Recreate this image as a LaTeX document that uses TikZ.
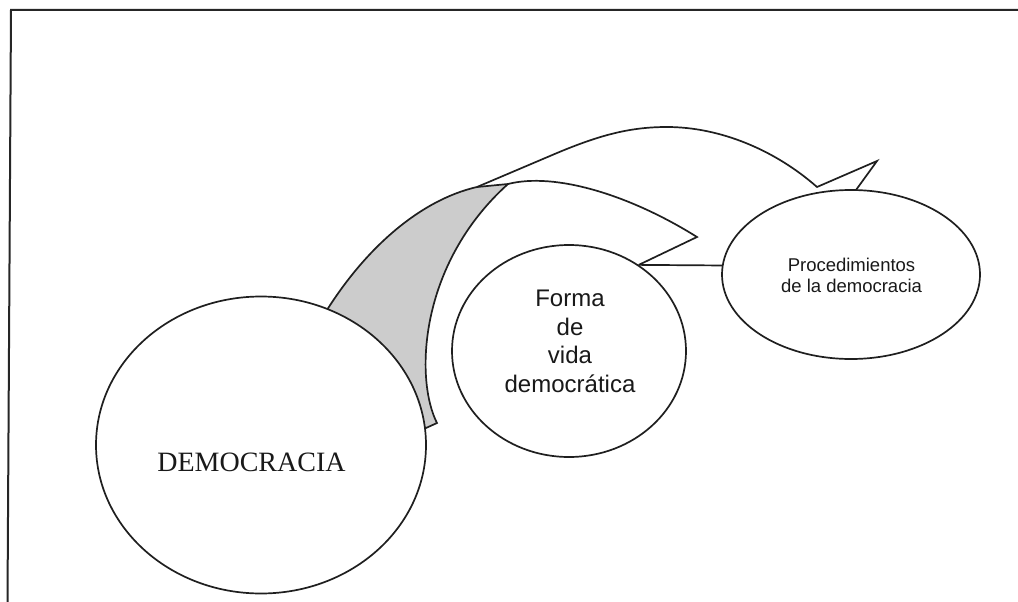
\documentclass[tikz,border=0pt]{standalone}
\usepackage{fontspec}
\setmainfont{Liberation Sans}
\newfontfamily\serifface{Liberation Serif}
\usetikzlibrary{shapes.geometric}

\begin{document}
\begin{tikzpicture}[x=1pt,y=-1pt,
  ink/.style={draw=black!88, line width=1.7pt, line join=miter},
  bubble/.style={ellipse, ink, fill=white, inner sep=0pt},
  lbl/.style={inner sep=0pt, text=black!90, align=center},
]
\useasboundingbox (0,0) rectangle (1018,602);

% page frame (left and top edges)
\draw[black!85, line width=2pt] (7.5,602) -- (11,10) -- (1018,10);

% shaded underside of the inner curved arrow
\path[ink, fill=black!20]
  (315,330) .. controls (360,250) and (420,200) .. (477,187)
  -- (508,184) .. controls (418,265) and (415,380) .. (437,423)
  -- (426,428) -- (410,420) -- cycle;

% the three bubbles
\node[bubble, minimum width=330pt, minimum height=297pt] (demo)  at (261,445) {};
\node[bubble, minimum width=234pt, minimum height=212pt] (forma) at (569,351) {};
\node[bubble, minimum width=258pt, minimum height=169pt] (proc)  at (851,274.5) {};

% labels
\node[lbl, font=\serifface\fontsize{28}{30}\selectfont] (demotxt) at (251.5,462.7) {DEMOCRACIA};
\node[lbl, font=\fontsize{24}{28.7}\selectfont] (formatxt) at (570,341.5) {Forma\\de\\vida\\democrática};
\node[lbl, font=\fontsize{18.5}{20.5}\selectfont] (proctxt) at (851.5,275.6) {Procedimientos\\de la democracia};

% key points of the block arrows
\coordinate (outerfoot) at (477,187);
\coordinate (innerfoot) at (508,184);
\coordinate (outernotch) at (817,187);
\coordinate (outertip) at (877,161);
\coordinate (outerend) at (856,190);
\coordinate (innertip) at (697,237);

% outer curved arrow, towards Procedimientos
\draw[ink] (outerfoot) -- (557,153)
  .. controls (600,135) and (630,127) .. (667,127)
  .. controls (720,127) and (775,150) .. (outernotch)
  -- (outertip) -- (outerend);

% inner curved arrow, towards Forma de vida
\draw[ink] (innerfoot) .. controls (555,172) and (630,195) .. (innertip) -- (forma.51.6);

% link between the two smaller bubbles
\draw[ink] (forma.51.6) -- (proc.176);
\end{tikzpicture}
\end{document}
